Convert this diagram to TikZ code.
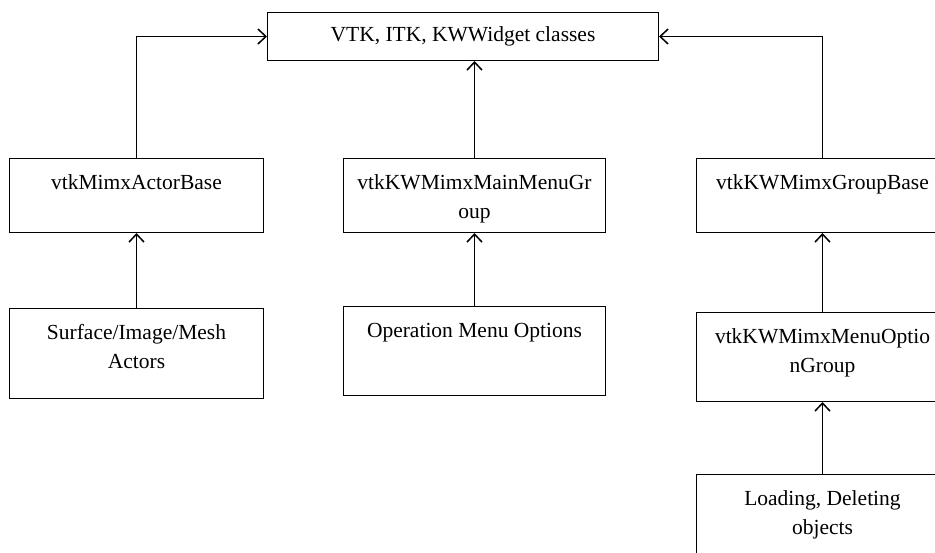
\documentclass[tikz,border=0pt]{standalone}
\usepackage{fontspec}
\setmainfont{Liberation Serif}
\usetikzlibrary{arrows.meta}

\tikzstyle{clsbox}=[
    draw,
    line width=1pt,
    inner sep=0pt,
    anchor=north west,
  ]
\tikzstyle{dep}=[
    -{Straight Barb[length=8pt,width=15pt,line width=1.5pt]},
    line width=1.7pt,
  ]
% box text sits at the top of the box
\newcommand{\boxtext}[3]{\parbox[c][#2pt][t]{#1pt}{\centering\rule{0pt}{31pt}#3}}

\begin{document}
\begin{tikzpicture}[x=1pt, y=-1pt, font=\fontsize{21.5}{29}\selectfont]
      \useasboundingbox (0,0) rectangle (935,552);
      \clip (0,0) rectangle (935,552);
      \node[clsbox, minimum width=391pt, minimum height=48pt] (vtk) at (267,12) {VTK, ITK, KWWidget classes};
      \node[clsbox] (actorbase) at (9,158) {\boxtext{254}{74}{vtkMimxActorBase}};
      \node[clsbox] (mainmenu) at (343,158) {\boxtext{262}{74}{vtkKWMimxMainMenuGr\\oup}};
      \node[clsbox] (groupbase) at (696,158) {\boxtext{252}{74}{vtkKWMimxGroupBase}};
      \node[clsbox] (actors) at (9,308) {\boxtext{254}{90}{Surface/Image/Mesh\\Actors}};
      \node[clsbox] (opmenu) at (343,306) {\boxtext{262}{89}{Operation Menu Options}};
      \node[clsbox] (menuoption) at (696,312) {\boxtext{252}{89}{vtkKWMimxMenuOptio\\nGroup}};
      \node[clsbox] (loading) at (696,474) {\boxtext{252}{90}{Loading, Deleting\\objects}};
      \draw[dep] (actorbase.north) |- (vtk.west);
      \draw[dep] (groupbase.north) |- (vtk.east);
      \draw[dep] (mainmenu.north) -- (mainmenu.north |- vtk.south);
      \draw[dep] (actors.north) -- (actorbase.south);
      \draw[dep] (opmenu.north) -- (mainmenu.south);
      \draw[dep] (menuoption.north) -- (groupbase.south);
      \draw[dep] (loading.north) -- (menuoption.south);
    \end{tikzpicture}
\end{document}
